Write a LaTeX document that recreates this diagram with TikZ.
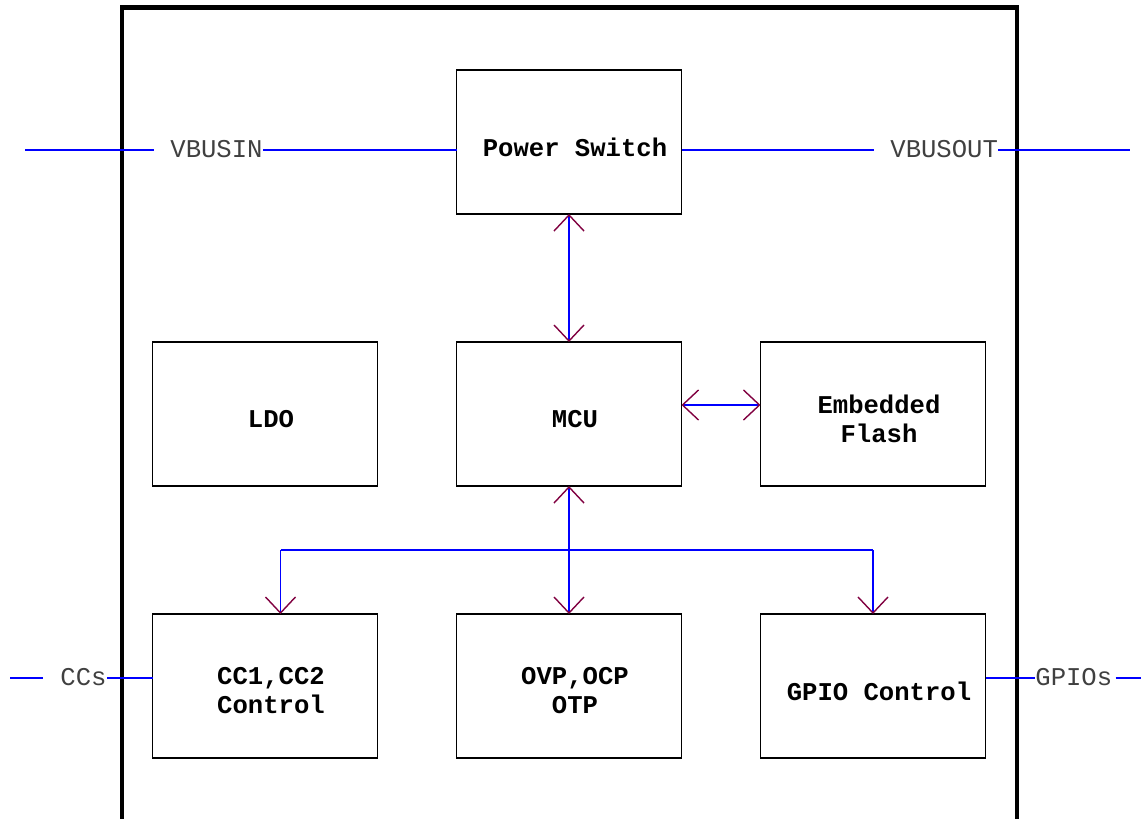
\documentclass[tikz,border=0pt]{standalone}
\usepackage{fontspec}
\setmonofont{Liberation Mono}
\usetikzlibrary{arrows.meta, positioning}
\definecolor{linkblue}{RGB}{0,0,255}
\definecolor{tippurple}{RGB}{128,0,64}

\begin{document}
\begin{tikzpicture}[
    x=0.5pt, y=-0.5pt,
    >={Straight Barb[length=8pt, width=15pt, line width=0.7pt, color=tippurple]},
    box/.style={rectangle, draw=black, line width=0.6pt, minimum width=112.5pt, minimum height=72pt, outer sep=0pt},
    blocktext/.style={inner sep=0pt, xshift=3pt, yshift=-2.5pt, align=center, font=\ttfamily\bfseries\fontsize{12.8}{14.5}\selectfont},
    block/.style={box, label={[blocktext]center:#1}},
    pinlabel/.style={inner sep=0pt, text=black!75, font=\ttfamily\fontsize{12.8}{14.5}\selectfont},
    pinwire/.style={draw=linkblue, line width=0.6pt},
    link/.style={draw=linkblue, line width=0.6pt}
]
\useasboundingbox (0,0) rectangle (1141,819);

% ==== Chip outline ====
\draw[line width=2.3pt] (122,830) -- (122,7.5) -- (1017,7.5) -- (1017,830);

% ==== Internal blocks ====
\node[block={MCU}] (mcu) at (569,414) {};
\node[block={Power Switch}, above=64pt of mcu] (pwr) {};
\node[block={LDO}, left=39.5pt of mcu] (ldo) {};
\node[block={Embedded\\Flash}, right=39.5pt of mcu] (flash) {};
\node[block={OVP,OCP\\OTP}, below=64pt of mcu] (ovp) {};
\node[block={CC1,CC2\\Control}, left=39.5pt of ovp] (cc) {};
\node[block={GPIO Control}, right=39.5pt of ovp] (gpio) {};

% ==== Pins ====
\coordinate (vinpin) at (25,150);
\coordinate (vinstub) at (154,150);
\node[pinlabel, anchor=west] (vbusin) at (170,149) {VBUSIN};
\draw[pinwire] (vinpin) -- (vinstub);
\draw[pinwire] (vbusin.east |- vinpin) -- (pwr.west |- vinpin);

\coordinate (voutstub) at (874,150);
\coordinate (voutpin) at (1130,150);
\node[pinlabel, anchor=west] (vbusout) at (890,149) {VBUSOUT};
\draw[pinwire] (pwr.east |- voutpin) -- (voutstub);
\draw[pinwire] (vbusout.east |- voutpin) -- (voutpin);

\coordinate (ccpin) at (10,678);
\coordinate (ccstub) at (43,678);
\node[pinlabel, anchor=west] (ccs) at (60,677) {CCs};
\draw[pinwire] (ccpin) -- (ccstub);
\draw[pinwire] (ccs.east |- ccpin) -- (cc.west |- ccpin);

\coordinate (gpiopin) at (1141,678);
\node[pinlabel, anchor=west] (gpios) at (1035,677) {GPIOs};
\draw[pinwire] (gpio.east |- gpiopin) -- (gpios.west |- gpiopin);
\draw[pinwire] ([xshift=1.5pt]gpios.east |- gpiopin) -- (gpiopin);

% ==== Internal links ====
\draw[link, <->] (pwr) -- (mcu);
\draw[link, <->] ([yshift=4.5pt]mcu.east) -- ([yshift=4.5pt]flash.west);

\coordinate (bus) at ([yshift=32pt]ovp.north);
\coordinate (ccin) at ([xshift=64pt]cc.north west);
\draw[link, <-] (mcu.south) -- (bus);
\draw[link] (ccin |- bus) -- (gpio.north |- bus);
\draw[link, ->] (ccin |- bus) -- (ccin);
\draw[link, ->] (bus) -- (ovp);
\draw[link, ->] (gpio.north |- bus) -- (gpio);

\end{tikzpicture}
\end{document}
